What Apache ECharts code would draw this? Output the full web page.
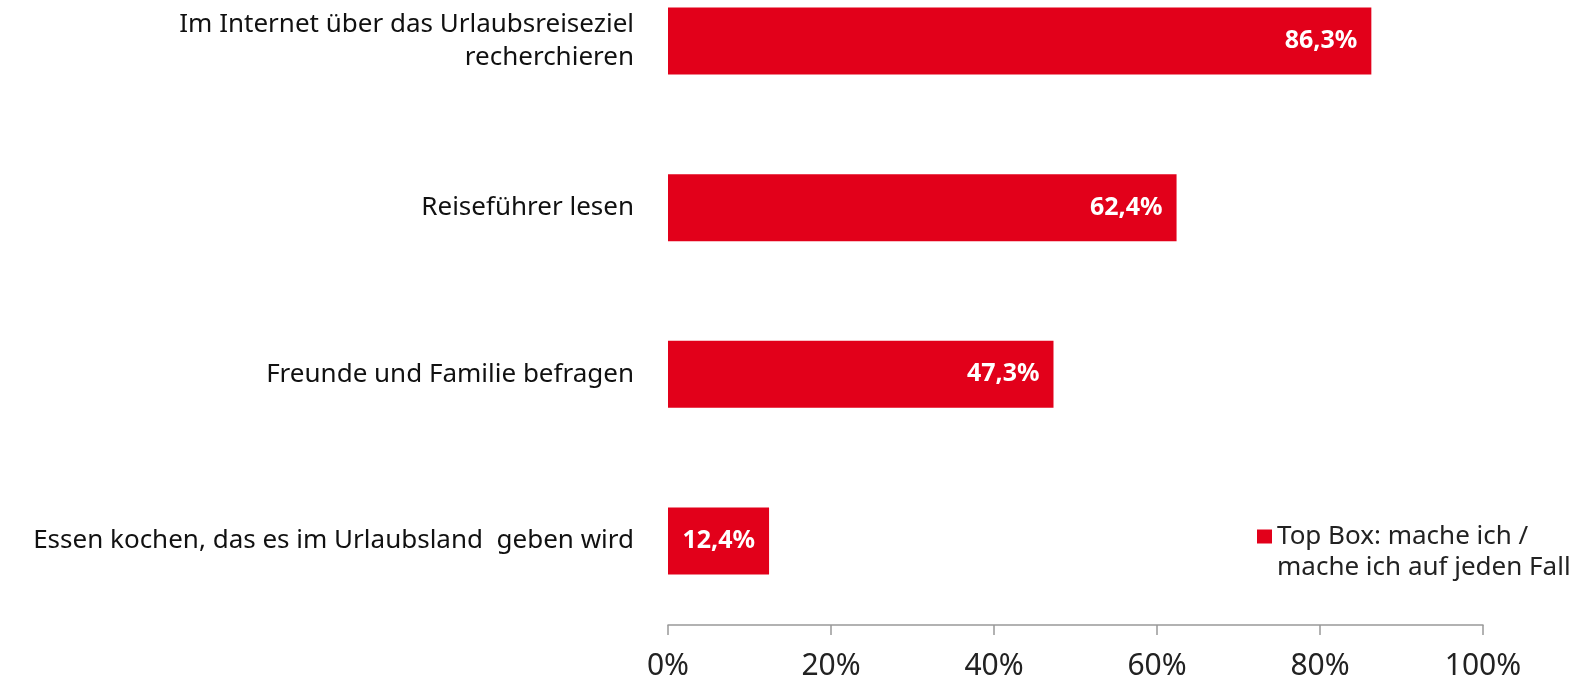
<!DOCTYPE html>
<html>
<head>
<meta charset="utf-8">
<script src="https://cdn.jsdelivr.net/npm/echarts@6/dist/echarts.min.js"></script>
<style>
  html, body { margin: 0; padding: 0; background: #fff; }
  #chart { width: 1571px; height: 679px; }
</style>
</head>
<body>
<div id="chart"></div>
<script>
var categories = [
  'Im Internet über das Urlaubsreiseziel\nrecherchieren',
  'Reiseführer lesen',
  'Freunde und Familie befragen',
  'Essen kochen, das es im Urlaubsland  geben wird'
];
var values = [86.3, 62.4, 47.3, 12.4];
var seriesName = 'Top Box: mache ich /\nmache ich auf jeden Fall';
var xTicks = [0, 20, 40, 60, 80, 100];

var chart = echarts.init(document.getElementById('chart'));
var option = {
  animation: false,
  textStyle: { fontFamily: 'Noto Sans' },
  grid: {
    left: 668,
    right: 88,
    top: 41,
    bottom: 138,
    outerBoundsMode: 'none'
  },
  legend: {
    data: [seriesName],
    left: 1252,
    top: 485,
    itemWidth: 15,
    itemHeight: 14,
    icon: 'rect',
    // leading empty line so the square sits beside the first text line
    formatter: function (name) { return '\n' + name; },
    textStyle: {
      fontSize: 26,
      color: '#222',
      lineHeight: 31,
      fontFamily: 'Noto Sans'
    }
  },
  xAxis: {
    type: 'value',
    min: xTicks[0],
    max: xTicks[xTicks.length - 1],
    interval: 20,
    offset: 84,
    axisLine: { show: true, lineStyle: { color: '#999', width: 1.5 } },
    axisTick: { show: true, length: 10, lineStyle: { color: '#999', width: 1.5 } },
    splitLine: { show: false },
    axisLabel: {
      margin: 26,
      fontSize: 30,
      color: '#222',
      formatter: function (v) { return v + '%'; }
    }
  },
  yAxis: {
    type: 'category',
    inverse: true,
    boundaryGap: false,
    data: categories,
    axisLine: { show: false },
    axisTick: { show: false },
    axisLabel: {
      margin: 34,
      fontSize: 26,
      color: '#111',
      lineHeight: 33,
      align: 'right'
    }
  },
  series: [{
    name: seriesName,
    type: 'bar',
    data: values,
    barWidth: 67,
    itemStyle: { color: '#e2001a' },
    label: {
      show: true,
      position: 'insideRight',
      distance: 14,
      color: '#fff',
      fontSize: 25,
      fontWeight: 'bold',
      formatter: function (p) { return String(p.value).replace('.', ',') + '%'; }
    }
  }]
};
chart.setOption(option);
</script>
</body>
</html>
